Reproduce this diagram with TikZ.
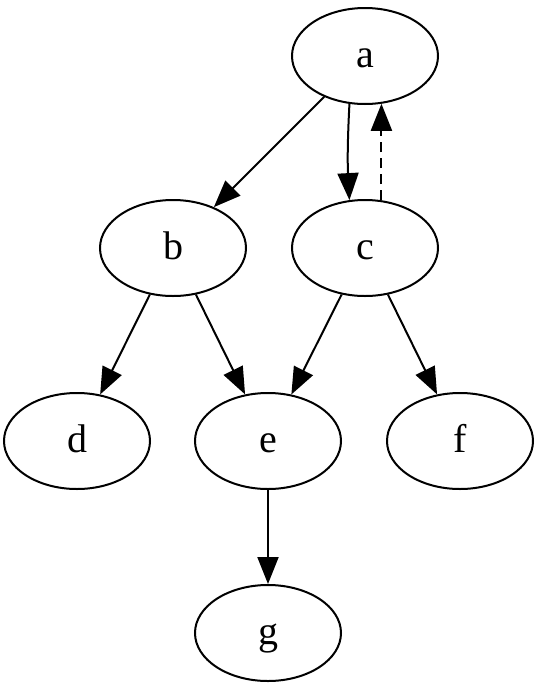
\documentclass[tikz,border=0pt]{standalone}
\usepackage{fontspec}
\setmainfont{Liberation Serif}
\usetikzlibrary{arrows.meta,shapes.geometric}
\begin{document}
\begin{tikzpicture}[x=1pt,y=-1pt,
  gnode/.style={draw,ellipse,line width=2pt,minimum width=146pt,minimum height=96pt,inner sep=0pt,text height=27pt,text depth=4pt,font=\fontsize{40}{40}\selectfont},
  edge/.style={line width=2pt,-{Triangle[length=27pt,width=21pt]}}]
\useasboundingbox (0,0) rectangle (542,686);
\node[gnode] (a) at (365,56) {a};
\node[gnode] (b) at (173,248) {b};
\node[gnode] (c) at (365,248) {c};
\node[gnode] (d) at (77,441) {d};
\node[gnode] (e) at (268,441) {e};
\node[gnode] (f) at (460,441) {f};
\node[gnode] (g) at (268,633) {g};
\draw[edge] (a) -- (b);
\draw[edge] (a.-108) to[bend right=3] (c.108);
\draw[edge,dash pattern=on 10pt off 6pt] (c.71) -- (a.-71);
\draw[edge] (b) -- (d);
\draw[edge] (b) -- (e);
\draw[edge] (c) -- (e);
\draw[edge] (c) -- (f);
\draw[edge] (e) -- (g);
\end{tikzpicture}
\end{document}
